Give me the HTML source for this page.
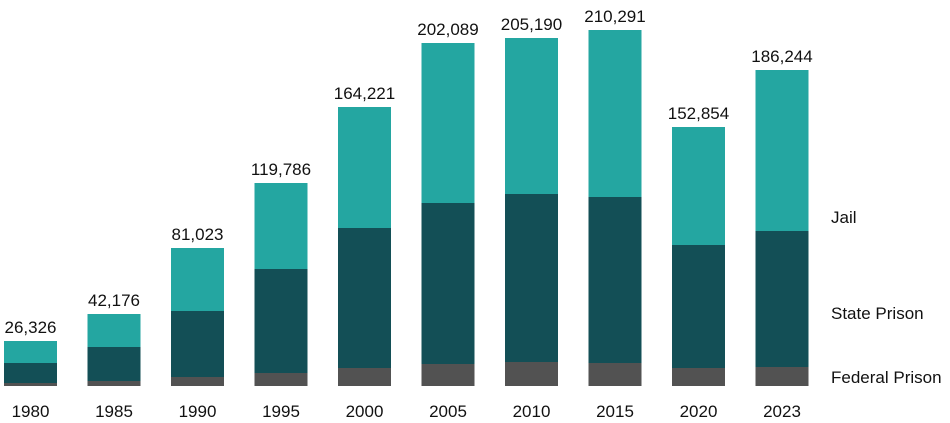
<!DOCTYPE html>
<html><head><style>body{margin:0;background:#fff}svg{display:block}text{font-family:"Liberation Sans",sans-serif;font-size:17px;fill:#111}</style></head><body>
<svg width="950" height="423" xmlns="http://www.w3.org/2000/svg">
<g text-anchor="middle">
<rect x="4" y="341" width="53" height="22" fill="#24a6a1"/><rect x="4" y="363" width="53" height="20" fill="#134f56"/><rect x="4" y="383" width="53" height="3" fill="#525252"/><text x="30.5" y="333">26,326</text><text x="30.5" y="417">1980</text>
<rect x="87.5" y="314" width="53" height="33" fill="#24a6a1"/><rect x="87.5" y="347" width="53" height="34" fill="#134f56"/><rect x="87.5" y="381" width="53" height="5" fill="#525252"/><text x="114" y="306">42,176</text><text x="114" y="417">1985</text>
<rect x="171" y="248" width="53" height="63" fill="#24a6a1"/><rect x="171" y="311" width="53" height="66" fill="#134f56"/><rect x="171" y="377" width="53" height="9" fill="#525252"/><text x="197.5" y="240">81,023</text><text x="197.5" y="417">1990</text>
<rect x="254.5" y="183" width="53" height="86" fill="#24a6a1"/><rect x="254.5" y="269" width="53" height="104" fill="#134f56"/><rect x="254.5" y="373" width="53" height="13" fill="#525252"/><text x="281" y="175">119,786</text><text x="281" y="417">1995</text>
<rect x="338" y="107" width="53" height="121" fill="#24a6a1"/><rect x="338" y="228" width="53" height="140" fill="#134f56"/><rect x="338" y="368" width="53" height="18" fill="#525252"/><text x="364.5" y="99">164,221</text><text x="364.5" y="417">2000</text>
<rect x="421.5" y="43" width="53" height="160" fill="#24a6a1"/><rect x="421.5" y="203" width="53" height="161" fill="#134f56"/><rect x="421.5" y="364" width="53" height="22" fill="#525252"/><text x="448" y="35">202,089</text><text x="448" y="417">2005</text>
<rect x="505" y="38" width="53" height="156" fill="#24a6a1"/><rect x="505" y="194" width="53" height="168" fill="#134f56"/><rect x="505" y="362" width="53" height="24" fill="#525252"/><text x="531.5" y="30">205,190</text><text x="531.5" y="417">2010</text>
<rect x="588.5" y="30" width="53" height="167" fill="#24a6a1"/><rect x="588.5" y="197" width="53" height="166" fill="#134f56"/><rect x="588.5" y="363" width="53" height="23" fill="#525252"/><text x="615" y="22">210,291</text><text x="615" y="417">2015</text>
<rect x="672" y="127" width="53" height="118" fill="#24a6a1"/><rect x="672" y="245" width="53" height="123" fill="#134f56"/><rect x="672" y="368" width="53" height="18" fill="#525252"/><text x="698.5" y="119">152,854</text><text x="698.5" y="417">2020</text>
<rect x="755.5" y="70" width="53" height="161" fill="#24a6a1"/><rect x="755.5" y="231" width="53" height="136" fill="#134f56"/><rect x="755.5" y="367" width="53" height="19" fill="#525252"/><text x="782" y="62">186,244</text><text x="782" y="417">2023</text>
</g>
<text x="831" y="223">Jail</text><text x="831" y="319">State Prison</text><text x="831" y="383">Federal Prison</text>
</svg></body></html>
